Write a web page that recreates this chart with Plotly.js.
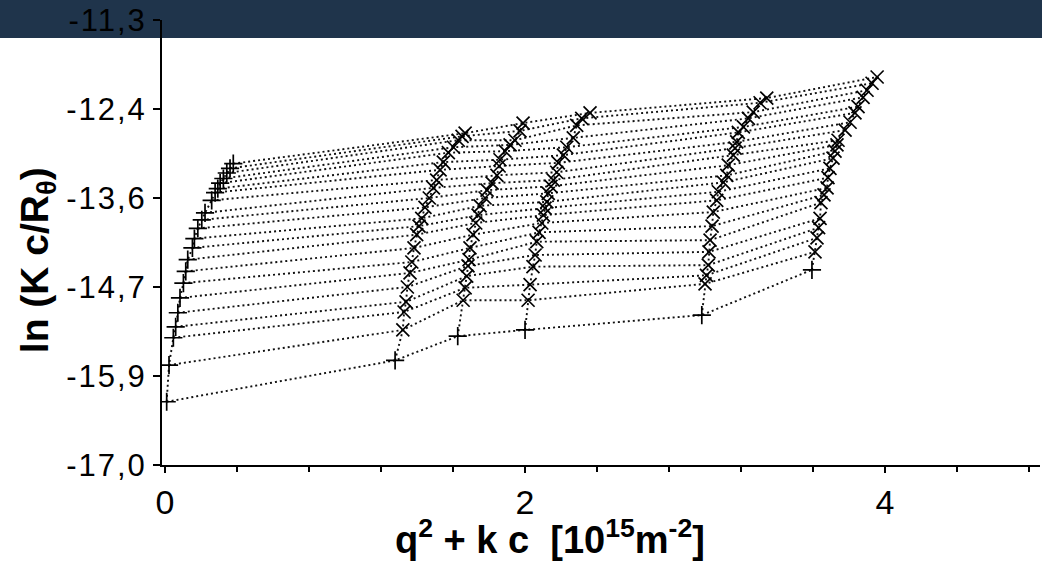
<!DOCTYPE html>
<html>
<head>
<meta charset="utf-8">
<script src="https://cdn.plot.ly/plotly-3.0.1.min.js"></script>
<style>
html,body{margin:0;padding:0;background:#ffffff;}
#chart{width:1042px;height:562px;}
#chart .ytick text{letter-spacing:2px;}
</style>
</head>
<body>
<div id="chart"></div>
<script>
// Columns: index 0 = lowest point (c -> 0 line, "+" marker), then 21 rows upward
const colX0 = [0.009,0.022,0.046,0.059,0.071,0.083,0.102,0.115,0.126,0.152,0.163,0.182,0.204,0.222,0.259,0.278,0.293,0.306,0.324,0.343,0.361,0.379];
const colY0 = [-16.19,-15.72,-15.37,-15.23,-15.05,-14.86,-14.67,-14.52,-14.37,-14.22,-14.10,-13.97,-13.86,-13.77,-13.61,-13.51,-13.46,-13.39,-13.33,-13.26,-13.20,-13.14];

const colX1 = [1.278,1.321,1.328,1.339,1.346,1.361,1.371,1.383,1.398,1.411,1.426,1.444,1.468,1.491,1.509,1.528,1.546,1.574,1.602,1.629,1.650,1.667];
const colY1 = [-15.66,-15.27,-15.04,-14.91,-14.72,-14.54,-14.40,-14.22,-14.05,-13.94,-13.84,-13.70,-13.58,-13.45,-13.35,-13.22,-13.12,-13.00,-12.93,-12.84,-12.79,-12.75];

const colX2 = [1.626,1.656,1.667,1.676,1.683,1.689,1.694,1.711,1.726,1.739,1.750,1.778,1.789,1.817,1.844,1.856,1.861,1.889,1.917,1.944,1.972,1.989];
const colY2 = [-15.35,-14.89,-14.73,-14.58,-14.45,-14.37,-14.22,-14.05,-13.90,-13.80,-13.68,-13.58,-13.48,-13.39,-13.29,-13.17,-13.09,-12.98,-12.90,-12.84,-12.72,-12.62];

const colX3 = [2.000,2.017,2.028,2.044,2.056,2.065,2.078,2.093,2.102,2.111,2.121,2.129,2.144,2.157,2.176,2.185,2.213,2.232,2.268,2.287,2.315,2.361];
const colY3 = [-15.27,-14.89,-14.69,-14.46,-14.31,-14.14,-14.02,-13.90,-13.80,-13.71,-13.63,-13.52,-13.43,-13.35,-13.25,-13.13,-13.03,-12.93,-12.81,-12.65,-12.56,-12.49];

const colX4 = [2.982,3.000,3.008,3.018,3.022,3.028,3.039,3.046,3.065,3.074,3.102,3.121,3.129,3.157,3.167,3.176,3.185,3.213,3.241,3.268,3.306,3.343];
const colY4 = [-15.08,-14.68,-14.57,-14.44,-14.27,-14.12,-13.94,-13.76,-13.61,-13.50,-13.38,-13.29,-13.16,-13.03,-12.94,-12.86,-12.74,-12.67,-12.56,-12.48,-12.36,-12.30];

const colX5 = [3.594,3.611,3.622,3.631,3.639,3.644,3.661,3.678,3.683,3.694,3.711,3.722,3.733,3.739,3.778,3.806,3.833,3.850,3.878,3.900,3.928,3.956];
const colY5 = [-14.50,-14.27,-14.09,-13.96,-13.84,-13.64,-13.54,-13.45,-13.32,-13.20,-13.07,-12.98,-12.90,-12.84,-12.71,-12.61,-12.49,-12.41,-12.29,-12.20,-12.11,-12.03];

const yTickVals = [-17.0,-15.86,-14.72,-13.58,-12.44,-11.3];
const yTickText = ['-17,0','-15,9','-14,7','-13,6','-12,4','-11,3'];
const xTickVals = [0,2,4];
const xTickText = ['0','2','4'];
const xTitle = 'q<sup>2</sup> + k c&nbsp;&nbsp;[10<sup>15</sup>m<sup>-2</sup>]';
const yTitle = 'ln (K c/R<sub>θ</sub>)';

const colsX = [colX0,colX1,colX2,colX3,colX4,colX5];
const colsY = [colY0,colY1,colY2,colY3,colY4,colY5];

const dotLine = {color:'#111', width:1.9, dash:'2px,3px'};
const traces = [];

// rows (constant concentration lines)
for (let i = 0; i < colX0.length; i++) {
  traces.push({
    type:'scatter', mode:'lines',
    x: colsX.map(c => c[i]), y: colsY.map(c => c[i]),
    line: dotLine, hoverinfo:'skip', showlegend:false
  });
}
// columns (connecting lines)
for (let j = 0; j < colsX.length; j++) {
  traces.push({
    type:'scatter', mode:'lines',
    x: colsX[j], y: colsY[j],
    line: dotLine, hoverinfo:'skip', showlegend:false
  });
}
// markers: "+" for column 0 and the lowest point of each column; "x" otherwise
for (let j = 0; j < colsX.length; j++) {
  const syms = colsX[j].map((v,i) => (j === 0 || i === 0) ? 'cross-thin' : 'x-thin');
  traces.push({
    type:'scatter', mode:'markers',
    x: colsX[j], y: colsY[j],
    marker:{symbol:syms, size:13, color:'#000', line:{color:'#000', width:1.7}},
    showlegend:false
  });
}

const layout = {
  width:1042, height:562,
  margin:{l:162, r:2, t:20, b:97},
  paper_bgcolor:'#ffffff',
  plot_bgcolor:'rgba(0,0,0,0)',
  showlegend:false,
  font:{family:'Liberation Sans, Arial, sans-serif', color:'#000'},
  xaxis:{
    range:[-0.017, 4.861],
    showgrid:false, zeroline:false,
    showline:true, linecolor:'#000', linewidth:2,
    ticks:'outside', ticklen:6, tickwidth:1.5, tickcolor:'#000',
    tickvals:xTickVals, ticktext:xTickText,
    tickfont:{size:34, family:'Liberation Sans Narrow, Liberation Sans, Arial, sans-serif'},
    minor:{dtick:0.4, tick0:0, ticks:'outside', ticklen:5, tickwidth:1.2, tickcolor:'#000', showgrid:false}
  },
  yaxis:{
    range:[-17.0, -11.3],
    showgrid:false, zeroline:false,
    showline:true, linecolor:'#000', linewidth:2,
    ticks:'outside', ticklen:7, tickwidth:1.5, tickcolor:'#000',
    tickvals:yTickVals, ticktext:yTickText,
    tickfont:{size:31}
  },
  annotations:[
    {text:xTitle, xref:'paper', yref:'paper', x:0.442, y:-0.162,
     xanchor:'center', yanchor:'middle', showarrow:false,
     font:{size:38, weight:'bold', color:'#000'}},
    {text:yTitle, xref:'paper', yref:'paper', x:-0.141, y:0.4607,
     xanchor:'center', yanchor:'middle', showarrow:false, textangle:-90,
     font:{size:39, weight:'bold', color:'#000'}}
  ],
  shapes:[{
    type:'rect', xref:'paper', yref:'paper', layer:'below',
    x0:-0.19, x1:1.01, y0:0.9596, y1:1.06,
    fillcolor:'#1f344b', line:{width:0}
  }]
};

Plotly.newPlot('chart', traces, layout, {displayModeBar:false, staticPlot:true});
</script>
</body>
</html>
